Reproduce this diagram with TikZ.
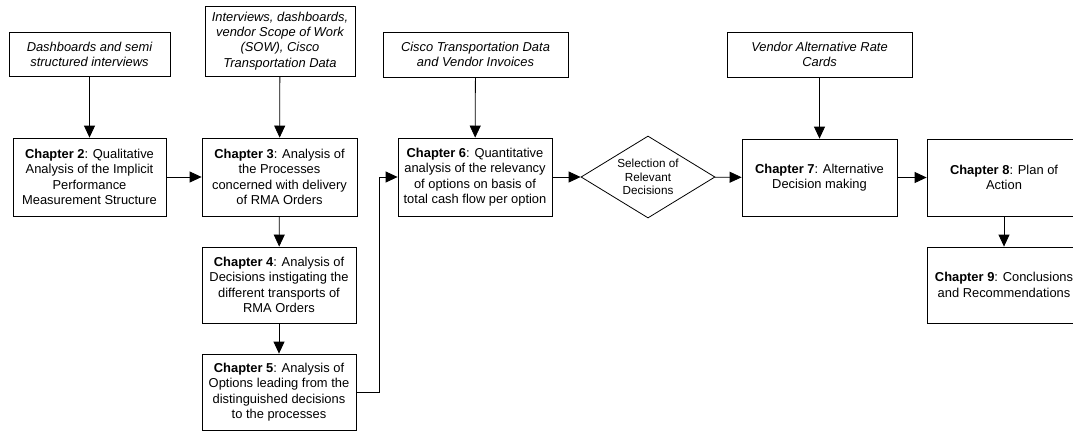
\documentclass[tikz,border=0pt]{standalone}
\usepackage{fontspec}
\setmainfont{Liberation Sans}
\usetikzlibrary{arrows.meta,shapes.geometric}

\tikzset{
  box/.style={draw, rectangle, line width=0.8pt, align=center, inner sep=0pt,
    font=\fontsize{12.9}{15.5}\selectfont},
  chapbox/.style={box},
  srcbox/.style={box, font=\fontsize{12.9}{15.2}\selectfont\itshape},
  choice/.style={draw, diamond, line width=0.8pt, align=center, inner sep=0pt,
    minimum width=134pt, minimum height=82pt, shape aspect=1.63,
    font=\fontsize{11.7}{13.8}\selectfont},
  flow/.style={line width=0.8pt, -{Triangle[length=12pt,width=11pt]}},
}
\newcommand{\chap}[1]{\textbf{Chapter #1}}

\begin{document}
\begin{tikzpicture}[x=1pt, y=-1pt]
  \useasboundingbox (0,0) rectangle (1073,432);
  \clip (0,0) rectangle (1073,432);

  % data sources
  \node[srcbox, minimum width=161pt, minimum height=44pt] (s1) at (89.5,54)
    {Dashboards and semi\\structured interviews};
  \node[srcbox, minimum width=150pt, minimum height=70pt] (s2) at (280,41)
    {Interviews, dashboards,\\vendor Scope of Work\\(SOW), Cisco\\Transportation Data};
  \node[srcbox, minimum width=185pt, minimum height=45pt] (s3) at (475.5,54.5)
    {Cisco Transportation Data\\and Vendor Invoices};
  \node[srcbox, minimum width=185pt, minimum height=45pt] (s4) at (819.5,54.5)
    {Vendor Alternative Rate\\Cards};

  % chapters
  \node[chapbox, minimum width=153pt, minimum height=78pt] (c2) at (89.5,177)
    {\chap{2}: Qualitative\\Analysis of the Implicit\\Performance\\Measurement Structure};
  \node[chapbox, minimum width=155pt, minimum height=78pt] (c3) at (279.5,177)
    {\chap{3}: Analysis of\\the Processes\\concerned with delivery\\of RMA Orders};
  \node[chapbox, minimum width=154pt, minimum height=76pt] (c4) at (279,285)
    {\chap{4}: Analysis of\\Decisions instigating the\\different transports of\\RMA Orders};
  \node[chapbox, minimum width=154pt, minimum height=76pt] (c5) at (279,392)
    {\chap{5}: Analysis of\\Options leading from the\\distinguished decisions\\to the processes};
  \node[chapbox, minimum width=154pt, minimum height=78pt] (c6) at (475,177)
    {\chap{6}: Quantitative\\analysis of the relevancy\\of options on basis of\\total cash flow per option};
  \node[choice] (sel) at (648,177) {Selection of\\Relevant\\Decisions};
  \node[chapbox, minimum width=155pt, minimum height=77pt] (c7) at (819.5,177.5)
    {\chap{7}: Alternative\\Decision making};
  \node[chapbox, minimum width=154pt, minimum height=77pt] (c8) at (1004,177.5)
    {\chap{8}: Plan of\\Action};
  \node[chapbox, minimum width=154pt, minimum height=76pt] (c9) at (1004,285)
    {\chap{9}: Conclusions\\and Recommendations};

  % connectors
  \coordinate (bend) at (379,392);
  \draw[flow] (s1) -- (c2);
  \draw[flow] (s2) -- (c3);
  \draw[flow] (s3) -- (c6);
  \draw[flow] (s4) -- (c7);
  \draw[flow] (c2) -- (c3);
  \draw[flow] (c3) -- (c4);
  \draw[flow] (c4) -- (c5);
  \draw[flow] (c5.east) -- (bend) |- (c6.west);
  \draw[flow] (c6) -- (sel);
  \draw[flow] (sel) -- (c7);
  \draw[flow] (c7) -- (c8);
  \draw[flow] (c8) -- (c9);
\end{tikzpicture}
\end{document}
